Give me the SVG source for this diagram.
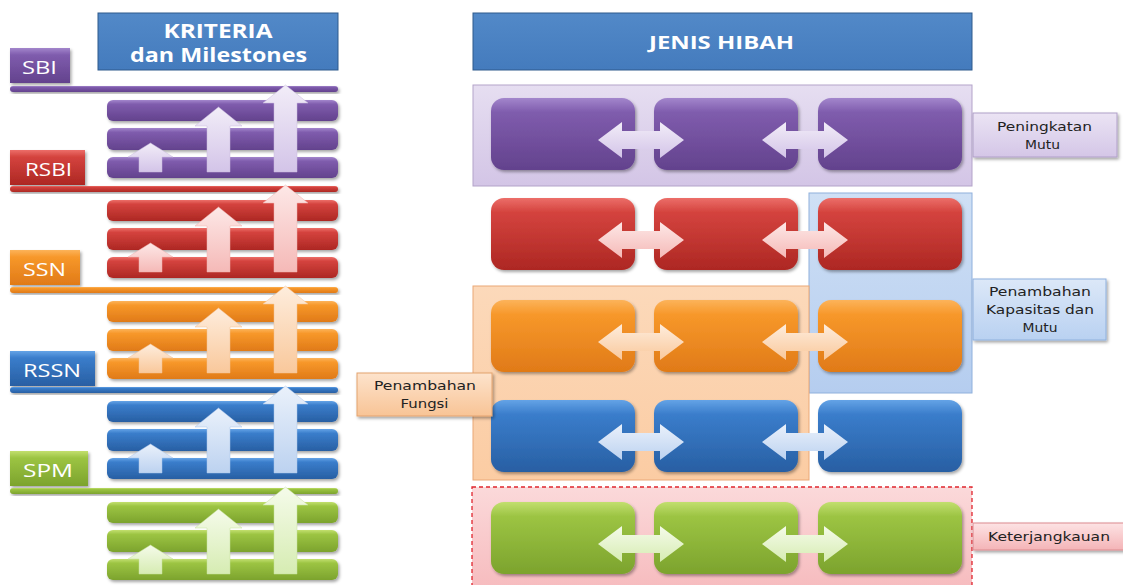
<svg xmlns="http://www.w3.org/2000/svg" xmlns:xlink="http://www.w3.org/1999/xlink" width="1123" height="585" viewBox="0 0 1123 585">
<style>
.hdr{font-family:"Open Sans","Liberation Sans",sans-serif;font-weight:bold;fill:#fff;text-anchor:middle}
.tag{font-family:"Open Sans","Liberation Sans",sans-serif;font-size:18px;fill:#fff;text-anchor:middle}
.lbl{font-family:"DejaVu Sans","Liberation Sans",sans-serif;font-size:11.5px;fill:#222;text-anchor:middle}
.sh{filter:url(#ds)}
</style>
<defs>
<filter id="ds" x="-10%" y="-20%" width="130%" height="150%"><feDropShadow dx="1.5" dy="2" stdDeviation="1.5" flood-color="#000" flood-opacity="0.35"/></filter>
<linearGradient id="gP" x1="0" y1="0" x2="0" y2="1"><stop offset="0" stop-color="#a386cc"/><stop offset="0.2" stop-color="#7f5cad"/><stop offset="1" stop-color="#63428d"/></linearGradient>
<linearGradient id="gR" x1="0" y1="0" x2="0" y2="1"><stop offset="0" stop-color="#ec6e69"/><stop offset="0.2" stop-color="#d4433e"/><stop offset="1" stop-color="#ad2723"/></linearGradient>
<linearGradient id="gO" x1="0" y1="0" x2="0" y2="1"><stop offset="0" stop-color="#fcb35a"/><stop offset="0.2" stop-color="#f7982a"/><stop offset="1" stop-color="#e07a18"/></linearGradient>
<linearGradient id="gB" x1="0" y1="0" x2="0" y2="1"><stop offset="0" stop-color="#64a3e6"/><stop offset="0.2" stop-color="#3a7dcb"/><stop offset="1" stop-color="#285fa3"/></linearGradient>
<linearGradient id="gG" x1="0" y1="0" x2="0" y2="1"><stop offset="0" stop-color="#c2df6e"/><stop offset="0.2" stop-color="#9cc443"/><stop offset="1" stop-color="#7ca32d"/></linearGradient>
<linearGradient id="aP" x1="0" y1="0" x2="0" y2="1"><stop offset="0" stop-color="#f2edf8"/><stop offset="1" stop-color="#d3c4e8"/></linearGradient>
<linearGradient id="aR" x1="0" y1="0" x2="0" y2="1"><stop offset="0" stop-color="#fde8e7"/><stop offset="1" stop-color="#f5b9b7"/></linearGradient>
<linearGradient id="aO" x1="0" y1="0" x2="0" y2="1"><stop offset="0" stop-color="#feeddd"/><stop offset="1" stop-color="#f9c89b"/></linearGradient>
<linearGradient id="aB" x1="0" y1="0" x2="0" y2="1"><stop offset="0" stop-color="#eaf1fb"/><stop offset="1" stop-color="#bcd2f0"/></linearGradient>
<linearGradient id="aG" x1="0" y1="0" x2="0" y2="1"><stop offset="0" stop-color="#f5fbea"/><stop offset="1" stop-color="#d6ecb2"/></linearGradient>
<linearGradient id="hdrG" x1="0" y1="0" x2="0" y2="1"><stop offset="0" stop-color="#5289c8"/><stop offset="1" stop-color="#447bbd"/></linearGradient>
<linearGradient id="cP" x1="0" y1="0" x2="0" y2="1"><stop offset="0" stop-color="#e6def1"/><stop offset="1" stop-color="#d3c5e6"/></linearGradient>
<linearGradient id="cB" x1="0" y1="0" x2="0" y2="1"><stop offset="0" stop-color="#cfe0f5"/><stop offset="1" stop-color="#b5cdef"/></linearGradient>
<linearGradient id="cO" x1="0" y1="0" x2="0" y2="1"><stop offset="0" stop-color="#fcd9ba"/><stop offset="1" stop-color="#fbcca3"/></linearGradient>
<linearGradient id="cK" x1="0" y1="0" x2="0" y2="1"><stop offset="0" stop-color="#fbd9da"/><stop offset="1" stop-color="#f6b9bc"/></linearGradient>
<linearGradient id="lP" x1="0" y1="0" x2="0" y2="1"><stop offset="0" stop-color="#ebe4f4"/><stop offset="1" stop-color="#d4c6e7"/></linearGradient>
<linearGradient id="lB" x1="0" y1="0" x2="0" y2="1"><stop offset="0" stop-color="#dce8f8"/><stop offset="1" stop-color="#b9d1f1"/></linearGradient>
<linearGradient id="lO" x1="0" y1="0" x2="0" y2="1"><stop offset="0" stop-color="#fde3cc"/><stop offset="1" stop-color="#f8c496"/></linearGradient>
<linearGradient id="lK" x1="0" y1="0" x2="0" y2="1"><stop offset="0" stop-color="#fde3e4"/><stop offset="1" stop-color="#f4b4b7"/></linearGradient>
<g id="ups">
<path d="M150.5,57 L173,71 L162,71 L162,86 L139,86 L139,71 L128,71 Z"/>
<path d="M218.5,21 L242,40 L230,40 L230,86 L207,86 L207,40 L195,40 Z"/>
<path d="M285.5,-1 L308,17 L297,17 L297,86 L274,86 L274,17 L263,17 Z"/>
</g>
<path id="dbl" d="M0,0 L24,-18 L24,-9 L62,-9 L62,-18 L86,0 L62,18 L62,9 L24,9 L24,18 Z"/>
<g id="bars">
<rect x="107" y="14" width="231" height="21" rx="6"/>
<rect x="107" y="42" width="231" height="22" rx="6"/>
<rect x="107" y="71" width="231" height="21" rx="6"/>
</g>
<g id="row">
<rect x="491" y="0" width="144" height="72" rx="13"/>
<rect x="654" y="0" width="144" height="72" rx="13"/>
<rect x="818" y="0" width="144" height="72" rx="13"/>
</g>
</defs>
<rect width="1123" height="585" fill="#fff"/>

<g id="hdr-kriteria">
<rect x="98" y="13" width="240" height="57" fill="url(#hdrG)" stroke="#2e5a8c" stroke-width="1"/>
<text class="hdr" x="218" y="38" font-size="19" textLength="109" lengthAdjust="spacingAndGlyphs">KRITERIA</text>
<text class="hdr" x="218.5" y="62" font-size="19" textLength="177" lengthAdjust="spacingAndGlyphs">dan Milestones</text>
</g>
<g id="hdr-jenis">
<rect x="473" y="13" width="499" height="57" fill="url(#hdrG)" stroke="#2e5a8c" stroke-width="1"/>
<text class="hdr" x="721.5" y="49" font-size="18" textLength="145" lengthAdjust="spacingAndGlyphs">JENIS HIBAH</text>
</g>

<!-- Left tiers -->
<g id="tier-sbi">
<rect class="sh" x="10" y="48" width="60" height="35" fill="url(#gP)"/>
<text class="tag" x="39.5" y="74" textLength="35" lengthAdjust="spacingAndGlyphs">SBI</text>
<rect class="sh" x="10" y="86" width="328" height="6" rx="3" fill="url(#gP)"/>
<use class="sh" xlink:href="#bars" transform="translate(0,86)" fill="url(#gP)"/>
<use xlink:href="#ups" transform="translate(0,86)" fill="url(#aP)" stroke="#c9bade" stroke-width="0.5"/>
</g>
<g id="tier-rsbi">
<rect class="sh" x="10" y="150" width="75" height="35" fill="url(#gR)"/>
<text class="tag" x="48.5" y="176" textLength="47" lengthAdjust="spacingAndGlyphs">RSBI</text>
<rect class="sh" x="10" y="186" width="328" height="6" rx="3" fill="url(#gR)"/>
<use class="sh" xlink:href="#bars" transform="translate(0,186)" fill="url(#gR)"/>
<use xlink:href="#ups" transform="translate(0,186)" fill="url(#aR)" stroke="#eeb0ae" stroke-width="0.5"/>
</g>
<g id="tier-ssn">
<rect class="sh" x="10" y="250" width="70" height="35" fill="url(#gO)"/>
<text class="tag" x="44.5" y="276" textLength="43" lengthAdjust="spacingAndGlyphs">SSN</text>
<rect class="sh" x="10" y="287" width="328" height="6" rx="3" fill="url(#gO)"/>
<use class="sh" xlink:href="#bars" transform="translate(0,287)" fill="url(#gO)"/>
<use xlink:href="#ups" transform="translate(0,287)" fill="url(#aO)" stroke="#f2c096" stroke-width="0.5"/>
</g>
<g id="tier-rssn">
<rect class="sh" x="10" y="351" width="85" height="35" fill="url(#gB)"/>
<text class="tag" x="52" y="377" textLength="58" lengthAdjust="spacingAndGlyphs">RSSN</text>
<rect class="sh" x="10" y="387" width="328" height="6" rx="3" fill="url(#gB)"/>
<use class="sh" xlink:href="#bars" transform="translate(0,387)" fill="url(#gB)"/>
<use xlink:href="#ups" transform="translate(0,387)" fill="url(#aB)" stroke="#aac4ea" stroke-width="0.5"/>
</g>
<g id="tier-spm">
<rect class="sh" x="10" y="451" width="78" height="35" fill="url(#gG)"/>
<text class="tag" x="48" y="477" textLength="50" lengthAdjust="spacingAndGlyphs">SPM</text>
<rect class="sh" x="10" y="488" width="328" height="6" rx="3" fill="url(#gG)"/>
<use class="sh" xlink:href="#bars" transform="translate(0,488)" fill="url(#gG)"/>
<use xlink:href="#ups" transform="translate(0,488)" fill="url(#aG)" stroke="#c6e09c" stroke-width="0.5"/>
</g>

<!-- Right containers -->
<g id="cont-peningkatan">
<rect x="473" y="85" width="499" height="101" fill="url(#cP)" stroke="#b3a3c9" stroke-width="1"/>
</g>
<g id="cont-kapasitas">
<rect x="809" y="193" width="163" height="200" fill="url(#cB)" stroke="#8fb0dc" stroke-width="1"/>
</g>
<g id="cont-fungsi">
<rect x="473" y="286" width="336" height="194" fill="url(#cO)" stroke="#eaa877" stroke-width="1"/>
</g>
<g id="cont-keterjangkauan">
<rect x="472" y="487" width="500" height="110" fill="url(#cK)" stroke="#e0262e" stroke-width="1.3" stroke-dasharray="4,3"/>
</g>

<!-- Rows -->
<g id="row-purple">
<use class="sh" xlink:href="#row" transform="translate(0,98)" fill="url(#gP)"/>
</g>
<g id="row-red">
<use class="sh" xlink:href="#row" transform="translate(0,198)" fill="url(#gR)"/>
</g>
<g id="row-orange">
<use class="sh" xlink:href="#row" transform="translate(0,300)" fill="url(#gO)"/>
</g>
<g id="row-blue">
<use class="sh" xlink:href="#row" transform="translate(0,400)" fill="url(#gB)"/>
</g>
<g id="row-green">
<use class="sh" xlink:href="#row" transform="translate(0,502)" fill="url(#gG)"/>
</g>

<g id="connectors">
<use xlink:href="#dbl" transform="translate(598,140)" fill="url(#aP)"/>
<use xlink:href="#dbl" transform="translate(762,140)" fill="url(#aP)"/>
<use xlink:href="#dbl" transform="translate(598,240)" fill="url(#aR)"/>
<use xlink:href="#dbl" transform="translate(762,240)" fill="url(#aR)"/>
<use xlink:href="#dbl" transform="translate(598,342)" fill="url(#aO)"/>
<use xlink:href="#dbl" transform="translate(762,342)" fill="url(#aO)"/>
<use xlink:href="#dbl" transform="translate(598,442)" fill="url(#aB)"/>
<use xlink:href="#dbl" transform="translate(762,442)" fill="url(#aB)"/>
<use xlink:href="#dbl" transform="translate(598,544)" fill="url(#aG)"/>
<use xlink:href="#dbl" transform="translate(762,544)" fill="url(#aG)"/>
</g>

<!-- Labels -->
<g id="lbl-peningkatan">
<rect class="sh" x="973" y="113" width="144" height="44" fill="url(#lP)" stroke="#b09fc8" stroke-width="1"/>
<text class="lbl" x="1044.5" y="131" textLength="95" lengthAdjust="spacingAndGlyphs">Peningkatan</text>
<text class="lbl" x="1042.5" y="149" textLength="35" lengthAdjust="spacingAndGlyphs">Mutu</text>
</g>
<g id="lbl-kapasitas">
<rect class="sh" x="973" y="279" width="133" height="61" fill="url(#lB)" stroke="#8eb0dd" stroke-width="1"/>
<text class="lbl" x="1040" y="296" textLength="102" lengthAdjust="spacingAndGlyphs">Penambahan</text>
<text class="lbl" x="1040" y="314" textLength="108" lengthAdjust="spacingAndGlyphs">Kapasitas dan</text>
<text class="lbl" x="1040" y="332" textLength="35" lengthAdjust="spacingAndGlyphs">Mutu</text>
</g>
<g id="lbl-fungsi">
<rect class="sh" x="357" y="373" width="135" height="43" fill="url(#lO)" stroke="#e4a36e" stroke-width="1"/>
<text class="lbl" x="425" y="390" textLength="102" lengthAdjust="spacingAndGlyphs">Penambahan</text>
<text class="lbl" x="424.5" y="408" textLength="48" lengthAdjust="spacingAndGlyphs">Fungsi</text>
</g>
<g id="lbl-keterjangkauan">
<rect class="sh" x="973" y="523" width="152" height="27" fill="url(#lK)" stroke="#dc8a8f" stroke-width="1"/>
<text class="lbl" x="1049" y="541" textLength="122" lengthAdjust="spacingAndGlyphs">Keterjangkauan</text>
</g>
</svg>
